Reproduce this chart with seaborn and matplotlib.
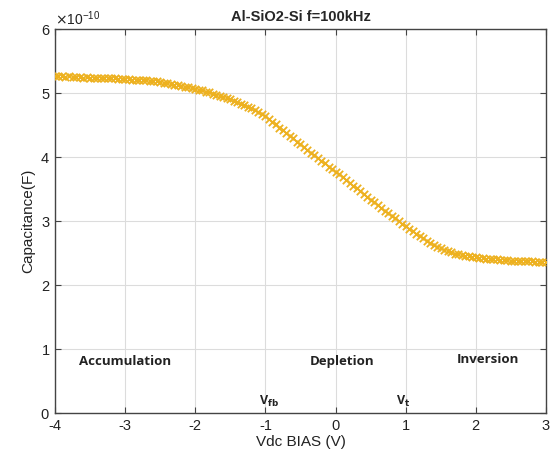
import numpy as np
import pandas as pd
import matplotlib
matplotlib.use("Agg")
import matplotlib.pyplot as plt
import seaborn as sns

title = "Al-SiO2-Si f=100kHz"
xlabel = "Vdc BIAS (V)"
ylabel = "Capacitance(F)"

# bias sweep -4 V .. 3 V in 0.05 V steps
vdc = np.linspace(-4, 3, 141)
# capacitance in units of 1e-10 F
cap_e10 = [
    5.26, 5.26, 5.26, 5.25, 5.26, 5.25, 5.25, 5.25, 5.24, 5.25, 5.24, 5.24, 5.24, 5.23, 5.24, 5.23, 5.23, 5.23, 5.22, 5.22, 5.22,
    5.22, 5.21, 5.21, 5.21, 5.20, 5.20, 5.19, 5.19, 5.18, 5.17, 5.16, 5.15, 5.14, 5.13, 5.12, 5.11, 5.10, 5.09, 5.08, 5.06,
    5.05, 5.04, 5.02, 5.01, 4.99, 4.97, 4.96, 4.94, 4.92, 4.90, 4.88, 4.86, 4.83, 4.81, 4.78, 4.76, 4.73, 4.70, 4.67, 4.64,
    4.60, 4.55, 4.51, 4.46, 4.42, 4.38, 4.33, 4.29, 4.24, 4.20, 4.16, 4.11, 4.07, 4.03, 3.98, 3.94, 3.90, 3.85, 3.81, 3.77,
    3.73, 3.68, 3.64, 3.60, 3.55, 3.51, 3.47, 3.42, 3.38, 3.33, 3.29, 3.25, 3.21, 3.16, 3.12, 3.08, 3.04, 3.00, 2.96, 2.92,
    2.88, 2.84, 2.80, 2.76, 2.73, 2.69, 2.66, 2.63, 2.60, 2.58, 2.55, 2.53, 2.51, 2.49, 2.48, 2.47, 2.46, 2.45, 2.44, 2.43,
    2.42, 2.42, 2.41, 2.41, 2.40, 2.40, 2.39, 2.39, 2.39, 2.38, 2.38, 2.38, 2.37, 2.37, 2.37, 2.37, 2.36, 2.36, 2.36, 2.36,
]
cap = np.array(cap_e10) * 1e-10

region_labels = ["Accumulation", "Depletion", "Inversion"]
region_x = [-3.0, 0.1, 2.17]
region_y = [0.8e-10, 0.8e-10, 0.83e-10]
volt_labels = [r"V$_{\mathbf{fb}}$", r"V$_{\mathbf{t}}$"]
volt_x = [-0.95, 0.97]
volt_y = [0.18e-10, 0.18e-10]

df = pd.DataFrame({"Vdc": vdc, "C": cap})

sns.set_theme(style="whitegrid")
plt.rcParams["font.family"] = ["Liberation Sans", "DejaVu Sans"]
plt.rcParams["axes.formatter.use_mathtext"] = False
plt.rcParams["axes.unicode_minus"] = False

fig = plt.figure(figsize=(5.52, 4.68), dpi=100)
ax = fig.add_axes([0.0996, 0.1175, 0.8894, 0.8205])

sns.scatterplot(data=df, x="Vdc", y="C", ax=ax, marker="x", s=28,
                color="#EDB120", linewidth=1.3, legend=False, zorder=3)

ax.set_xlim(-4, 3)
ax.set_ylim(0, 6e-10)
ax.set_xticks(range(-4, 4))
ax.set_yticks(np.arange(0, 7) * 1e-10)
ax.ticklabel_format(axis="y", style="sci", scilimits=(0, 0), useMathText=True)
ax.yaxis.get_offset_text().set_fontsize(10)
ax.yaxis.get_offset_text().set_color("#555555")

ax.set_facecolor("white")
ax.grid(True, color="#dcdcdc", linewidth=0.8)
for sp in ax.spines.values():
    sp.set_visible(True)
    sp.set_color("#444444")
    sp.set_linewidth(1.0)
ax.tick_params(direction="in", length=4, width=0.8, colors="#444444",
               labelsize=10.5, labelcolor="#222222", top=True, right=True,
               bottom=True, left=True)
ax.tick_params(axis="x", pad=4)

ax.set_title(title, fontsize=10.5, fontweight="bold", pad=6)
ax.set_xlabel(xlabel, fontsize=11, color="#222222", labelpad=2)
ax.set_ylabel(ylabel, fontsize=11, color="#222222", labelpad=4)

for t, x, y in zip(region_labels, region_x, region_y):
    ax.text(x, y, t, ha="center", va="center", fontsize=9.5, fontweight="bold",
            family=["Open Sans", "DejaVu Sans"], color="#222222")
for t, x, y in zip(volt_labels, volt_x, volt_y):
    ax.text(x, y, t, ha="center", va="center", fontsize=9, fontweight="bold",
            family=["Open Sans", "DejaVu Sans"], color="#222222")

fig.savefig("out.png", dpi=100)
